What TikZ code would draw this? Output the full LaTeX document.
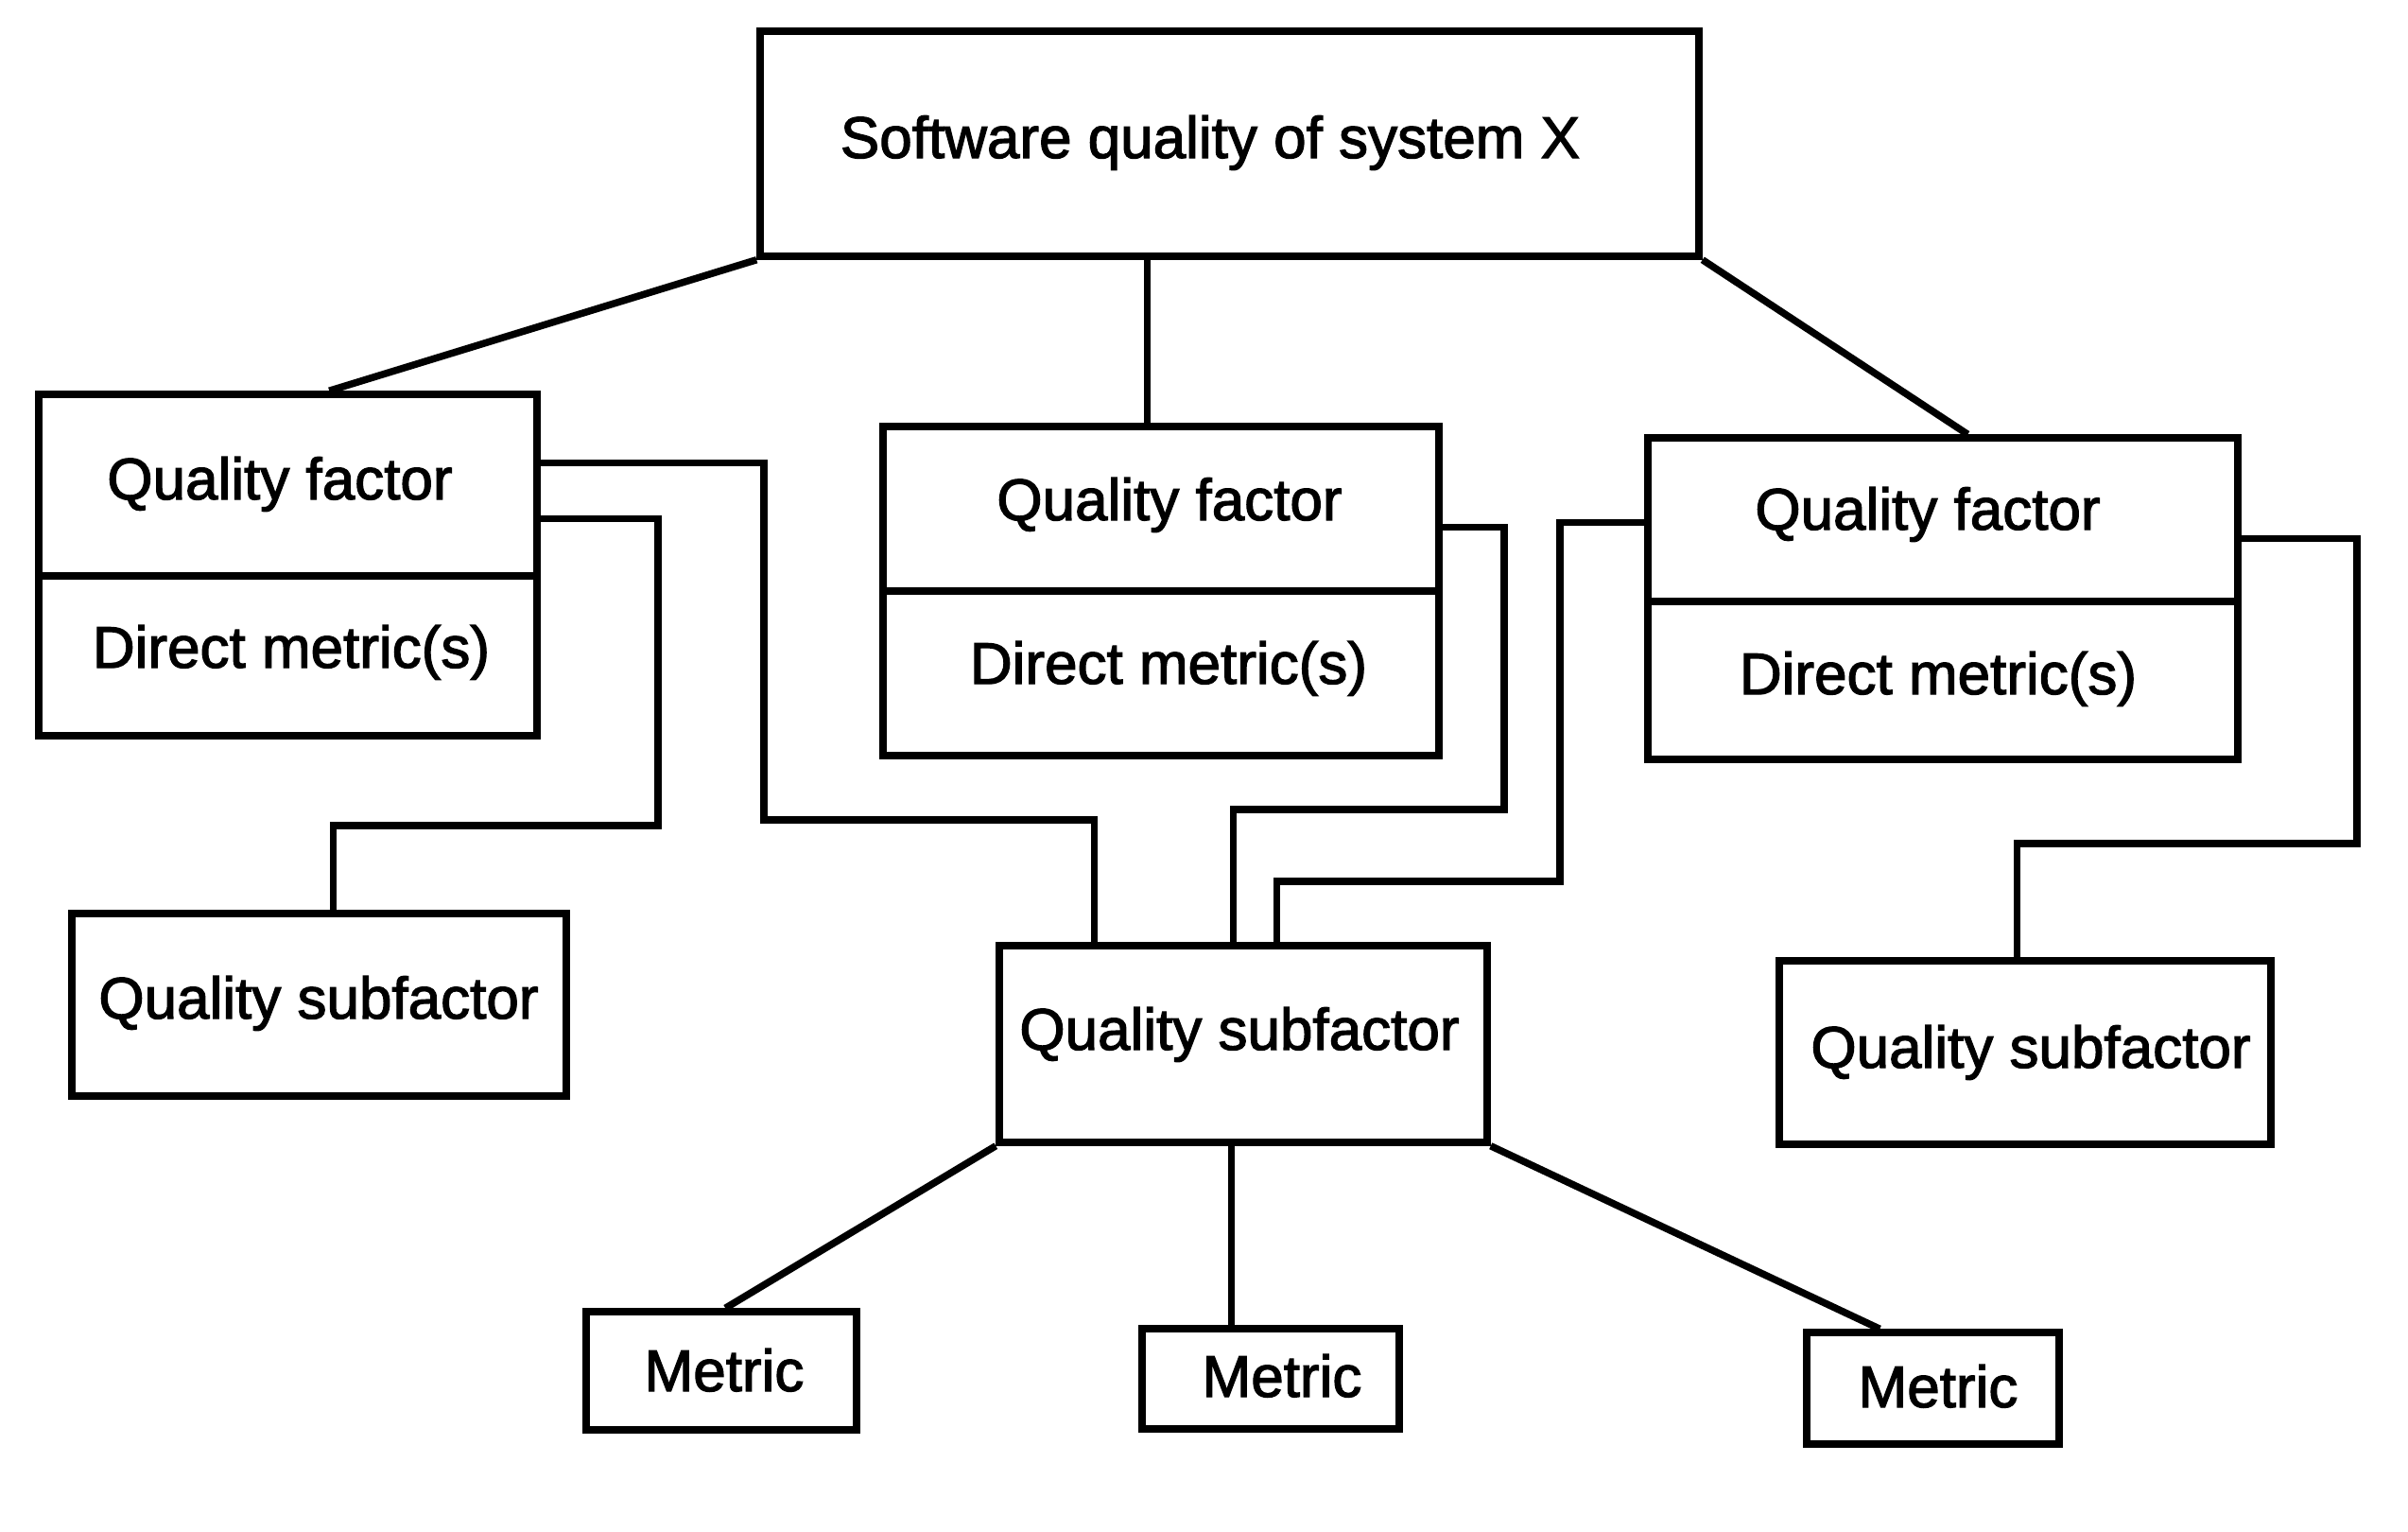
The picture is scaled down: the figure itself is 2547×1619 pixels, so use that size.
\documentclass[tikz,border=0pt]{standalone}
\usepackage{fontspec}
\setmainfont{Liberation Sans}[FakeBold=2]
\begin{document}
\begin{tikzpicture}[x=1pt,y=-1pt,
  box/.style={draw, rectangle, inner sep=0pt, line width=7.5pt},
  lbl/.style={anchor=base, inner sep=0pt, font=\fontsize{62}{74}\selectfont},
  conn/.style={line width=7.5pt, line join=miter}]
\useasboundingbox (0,0) rectangle (2547,1619);
\fill[white] (0,0) rectangle (2547,1619);

% boxes
\node[box, minimum width=993pt, minimum height=238pt] (top) at (1300.5,152) {};
\node[box, minimum width=527pt, minimum height=192pt] (qf1a) at (304.5,513) {};
\node[box, minimum width=527pt, minimum height=169pt] (qf1b) at (304.5,693.5) {};
\node[box, minimum width=588pt, minimum height=174pt] (qf2a) at (1228,538) {};
\node[box, minimum width=588pt, minimum height=174pt] (qf2b) at (1228,712) {};
\node[box, minimum width=624pt, minimum height=173pt] (qf3a) at (2055,549.5) {};
\node[box, minimum width=624pt, minimum height=167pt] (qf3b) at (2055,719.5) {};
\node[box, minimum width=523pt, minimum height=193pt] (qsf1) at (337.5,1062.5) {};
\node[box, minimum width=516pt, minimum height=208pt] (qsf2) at (1315,1104) {};
\node[box, minimum width=520pt, minimum height=194pt] (qsf3) at (2142,1113) {};
\node[box, minimum width=286pt, minimum height=125pt] (m1) at (763,1449.5) {};
\node[box, minimum width=272pt, minimum height=106pt] (m2) at (1344,1458) {};
\node[box, minimum width=267pt, minimum height=118pt] (m3) at (2044.5,1468) {};

% labels
\node[lbl] (t0) at (1280,167) {Software quality of system X};
\node[lbl] (t1a) at (296,528) {Quality factor};
\node[lbl] (t1b) at (308,706) {Direct metric(s)};
\node[lbl] (t2a) at (1237,550) {Quality factor};
\node[lbl] (t2b) at (1236,723) {Direct metric(s)};
\node[lbl] (t3a) at (2039,560) {Quality factor};
\node[lbl] (t3b) at (2050,734) {Direct metric(s)};
\node[lbl] (t4) at (337,1077) {Quality subfactor};
\node[lbl] (t5) at (1311,1110) {Quality subfactor};
\node[lbl] (t6) at (2148,1129) {Quality subfactor};
\node[lbl] (t7) at (766,1471) {Metric};
\node[lbl] (t8) at (1356,1477) {Metric};
\node[lbl] (t9) at (2050,1488) {Metric};

% connectors from the top box
\draw[conn] (top.south west) -- ([xshift=311pt]qf1a.north west);
\coordinate (c2) at ([xshift=283pt]qf2a.north west);
\draw[conn] (c2 |- top.south) -- (c2);
\draw[conn] (top.south east) -- ([xshift=342pt]qf3a.north west);

% factor -> subfactor connectors
\draw[conn] ([yshift=-76pt]qf1a.north east) -| (808,867) -| ([xshift=104pt]qsf2.north west);
\draw[conn] ([yshift=-135pt]qf1a.north east) -| (696,873) -| ([xshift=280pt]qsf1.north west);
\draw[conn] ([yshift=-110pt]qf2a.north east) -| (1591,856) -| ([xshift=251pt]qsf2.north west);
\draw[conn] ([yshift=-93pt]qf3a.north west) -| (1650,932) -| ([xshift=297pt]qsf2.north west);
\draw[conn] ([yshift=-110pt]qf3a.north east) -| (2493,892) -| ([xshift=255pt]qsf3.north west);

% subfactor -> metric connectors
\draw[conn] (qsf2.south west) -- ([xshift=151pt]m1.north west);
\coordinate (c10) at ([xshift=98pt]m2.north west);
\draw[conn] (c10 |- qsf2.south) -- (c10);
\draw[conn] (qsf2.south east) -- ([xshift=81pt]m3.north west);
\end{tikzpicture}
\end{document}
